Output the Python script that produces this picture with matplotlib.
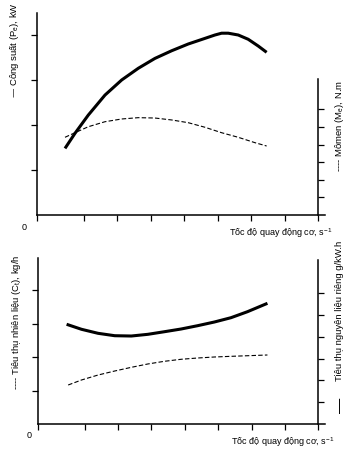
import matplotlib
matplotlib.use("Agg")
from matplotlib import pyplot as plt

plt.rcParams['font.family'] = ['Liberation Sans', 'DejaVu Sans']
plt.rcParams['mathtext.default'] = 'regular'

# --- data ---
# top chart: engine speed (arbitrary units), power kW, torque N.m
speed_p = [8.36, 11.34, 15.31, 20.30, 25.28, 30.24, 35.22, 40.21, 45.16, 50.15,
           53.13, 55.13, 57.10, 60.09, 63.07, 66.06, 68.57]
power = [29.6, 36.3, 44.4, 53.3, 60.0, 65.2, 69.6, 73.0, 76.0, 78.5,
         80.0, 80.8, 80.8, 80.0, 78.1, 75.1, 72.3]
speed_m = [8.36, 11.34, 15.31, 20.30, 25.28, 30.24, 35.22, 40.21, 45.16, 50.15,
           55.13, 60.09, 65.07, 68.57]
torque = [88.3, 93.5, 100.3, 106.0, 109.1, 110.6, 110.2, 108.0, 104.9, 99.7,
          93.5, 88.3, 82.2, 78.4]

# bottom chart: specific consumption g/kWh (solid), fuel consumption kg/h (dashed)
speed_g = [8.57, 13.04, 17.99, 22.99, 27.97, 32.93, 37.91, 42.90, 47.85, 52.84,
           57.82, 62.78, 68.75]
spec = [228.7, 217.2, 208.0, 202.5, 201.8, 205.7, 211.7, 217.9, 225.5, 233.9,
        243.8, 257.6, 276.8]
speed_c = [9.04, 13.04, 17.99, 22.99, 27.97, 32.93, 37.91, 42.90, 47.85, 52.84,
           57.82, 62.78, 68.75]
fuel = [5.82, 6.57, 7.31, 7.91, 8.46, 8.96, 9.36, 9.66, 9.85, 10.0,
        10.10, 10.19, 10.30]

xticks = [0, 14, 24, 34, 44, 54, 64, 74, 84]

W, H = 351, 453
fig = plt.figure(figsize=(W / 100, H / 100), dpi=100)


def px(x, y):
    return x / W, 1 - y / H


def setup(ax, ax2, lticks, rticks, rtop):
    for s in ['top', 'right']:
        ax.spines[s].set_visible(False)
    for s in ['top', 'left', 'bottom']:
        ax2.spines[s].set_visible(False)
    ax2.spines['right'].set_position(('data', 84))
    ax2.spines['right'].set_bounds(0, rtop)
    for a in (ax, ax2):
        for s in a.spines.values():
            s.set_linewidth(1.1)
    ax.set_xlim(0, 86)
    ax.set_xticks(xticks)
    ax.set_yticks(lticks)
    ax2.set_yticks(rticks)
    ax.tick_params(direction='out', length=4, width=0.9, labelbottom=False, labelleft=False)
    ax2.tick_params(direction='out', length=4, width=0.9, labelright=False)
    ax.patch.set_visible(False)


# top chart
x0, y0, x1, y1 = 37, 215, 325, 13
ax = fig.add_axes([x0 / W, 1 - y0 / H, (x1 - x0) / W, (y0 - y1) / H])
ax2 = ax.twinx()
ax.set_ylim(0, (y0 - y1) / 45 * 20)
ax2.set_ylim(0, (y0 - y1) / 17.6 * 20)
setup(ax, ax2, [20, 40, 60, 80], [20, 40, 60, 80, 100, 120], (215 - 79) / 17.6 * 20)
ax.plot(speed_p, power, 'k', lw=2.2, solid_capstyle='butt')
ax2.plot(speed_m, torque, 'k', lw=0.8, dashes=(4, 2))

# bottom chart
x0, y0, x1, y1 = 38, 424, 325, 258
bx = fig.add_axes([x0 / W, 1 - y0 / H, (x1 - x0) / W, (y0 - y1) / H])
bx2 = bx.twinx()
bx.set_ylim(0, (y0 - y1) / 33.5 * 5)
bx2.set_ylim(0, (y0 - y1) / 21.8 * 50)
setup(bx, bx2, [5, 10, 15, 20], [50, 100, 150, 200, 250, 300], (424 - 260) / 21.8 * 50)
bx2.plot(speed_g, spec, 'k', lw=2.2, solid_capstyle='butt')
bx.plot(speed_c, fuel, 'k', lw=0.8, dashes=(4, 2))

fs = 6.5
xl = 'Tốc độ quay động cơ, s$^{-1}$'
fig.text(*px(333, 233), xl, fontsize=fs, ha='right', va='center')
fig.text(*px(335, 442), xl, fontsize=fs, ha='right', va='center')
fig.text(*px(24, 227), '0', fontsize=fs, ha='center', va='center')
fig.text(*px(29, 436), '0', fontsize=fs, ha='center', va='center')

fs2 = 6.8
fig.text(*px(15, 50), '— Công suất (P$_e$), kW', fontsize=fs2, rotation=90,
         ha='center', va='center')
fig.text(*px(340, 126), '---- Mômen (M$_e$), N.m', fontsize=fs2, rotation=90,
         ha='center', va='center')
fig.text(*px(17, 322), '---- Tiêu thụ nhiên liệu (C$_t$), kg/h', fontsize=fs2, rotation=90,
         ha='center', va='center')
fig.text(*px(340, 311), 'Tiêu thụ nguyên liệu riêng g/kW.h', fontsize=fs2, rotation=90,
         ha='center', va='center')
fig.text(*px(340, 405), '—', fontsize=11, rotation=90, ha='center', va='center')

fig.savefig('out.png', dpi=100, facecolor='white')
